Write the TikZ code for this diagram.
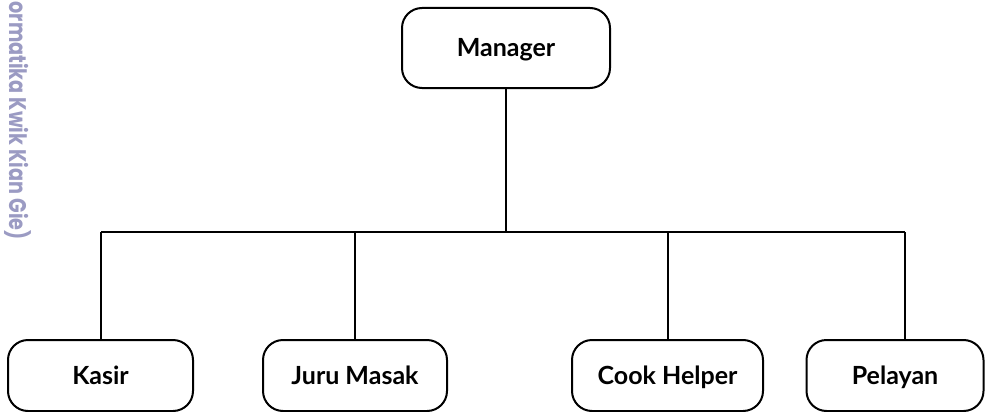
\documentclass[tikz,border=0pt]{standalone}
\usepackage{fontspec}
\usepackage{graphicx}
\setmainfont{Lato}
\newfontfamily\wmfont{Poppins}
\definecolor{wmcol}{RGB}{155,155,195}
\begin{document}
\begin{tikzpicture}[x=1pt,y=-1pt,
  box/.style={draw=black,line width=2pt,rounded corners=20pt,fill=white,inner sep=0pt,
    text height=17.5pt,text depth=0pt,
    font=\fontsize{25}{29}\selectfont\bfseries},
  link/.style={draw=black,line width=2pt}]
\useasboundingbox (0,0) rectangle (990,412);
\node[rotate=-90,anchor=south east,inner sep=0pt,text=wmcol,font=\wmfont\fontsize{24}{26}\selectfont\bfseries] (wm) at (4,240) {\scalebox{0.8}[1]{ormatika Kwik Kian Gie)}};
\node[box,minimum width=208pt,minimum height=80pt] (mgr) at (506,48) {Manager};
\node[box,minimum width=185pt,minimum height=71pt] (kasir) at (100.5,375.5) {Kasir};
\node[box,minimum width=184pt,minimum height=71pt] (juru) at (355,375.5) {Juru Masak};
\node[box,minimum width=191pt,minimum height=71pt] (cook) at (667.5,375.5) {Cook Helper};
\node[box,minimum width=177pt,minimum height=71pt] (pel) at (895,375.5) {Pelayan};
\coordinate (hl) at (101,232);
\coordinate (hr) at (905,232);
\draw[link] (mgr.south) -- (mgr.south |- hl);
\draw[link] (hl) -- (hr);
\draw[link] (hl) -- (hl |- kasir.north);
\draw[link] (juru.north |- hl) -- (juru.north);
\draw[link] (cook.north |- hl) -- (cook.north);
\draw[link] (hr) -- (hr |- pel.north);
\end{tikzpicture}
\end{document}
